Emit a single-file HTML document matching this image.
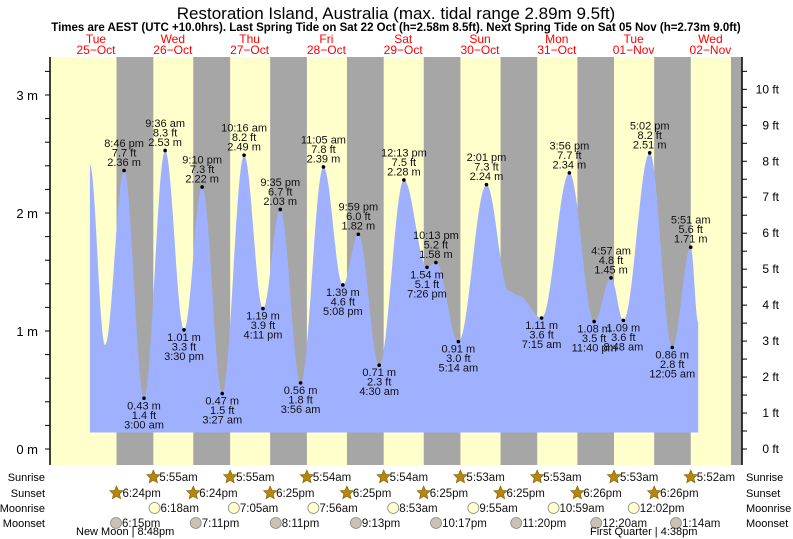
<!DOCTYPE html>
<html><head><meta charset="utf-8"><style>
body{margin:0;background:#fff}
svg{display:block;font-family:"Liberation Sans",sans-serif}
</style></head><body>
<svg id="c" width="793" height="539" viewBox="0 0 793 539" xmlns="http://www.w3.org/2000/svg">
<text x="396" y="19" text-anchor="middle" font-size="17">Restoration Island, Australia (max. tidal range 2.89m 9.5ft)</text>
<text x="396" y="31" text-anchor="middle" font-size="11.5" font-weight="bold">Times are AEST (UTC +10.0hrs). Last Spring Tide on Sat 22 Oct (h=2.58m 8.5ft). Next Spring Tide on Sat 05 Nov (h=2.73m 9.0ft)</text>
<g id="bg"></g><g id="tide"></g><g id="axes"></g><g id="labels"></g><g id="astro"></g>
</svg>
<script>
// hours since 25-Oct 00:00
const tideTimes=[10.1,14.8,20.77,27.0,33.6,39.5,45.17,51.45,58.27,64.18,69.58,75.93,83.08,89.13,93.98,100.5,108.22,115.43,118.22,125.23,134.02,141.0,144.0,151.25,159.93,167.67,172.95,176.8,185.03,192.08,197.85,200.2];
const tideHeights=[2.41,0.88,2.36,0.43,2.53,1.01,2.22,0.47,2.49,1.19,2.03,0.56,2.39,1.39,1.82,0.71,2.28,1.54,1.58,0.91,2.24,1.34,1.30,1.11,2.34,1.08,1.45,1.09,2.51,0.86,1.71,1.07];
const tideLabelled=[0,0,1,1,1,1,1,1,1,1,1,1,1,1,1,1,1,1,1,1,1,0,0,1,1,1,1,1,1,1,1,0];
const dayNames=["Tue","Wed","Thu","Fri","Sat","Sun","Mon","Tue","Wed"];
const dayDates=["25\u2212Oct","26\u2212Oct","27\u2212Oct","28\u2212Oct","29\u2212Oct","30\u2212Oct","31\u2212Oct","01\u2212Nov","02\u2212Nov"];
const sunrise=[null,5.917,5.917,5.9,5.9,5.883,5.883,5.883,5.867];
const sunset=[18.4,18.4,18.417,18.417,18.417,18.417,18.433,18.433,18.433];
const moonrise=[null,6.3,7.083,7.933,8.883,9.917,10.983,12.033,null];
const moonset=[18.25,19.183,20.183,21.217,22.283,23.333,null,0.333,1.233];
const mTicks=[0,1,2,3];
const ftTicks=[0,1,2,3,4,5,6,7,8,9,10];

const NS="http://www.w3.org/2000/svg";
const X=t=>57.6+t*3.2, Y=m=>449-m*118;
const L=50,R=742,T=57,B=465;
function mk(p,tag,a,txt){const e=document.createElementNS(NS,tag);for(const k in a)e.setAttribute(k,a[k]);if(txt!=null)e.textContent=txt;document.getElementById(p).appendChild(e);return e;}
function fmt(h){h=((h%24)+24)%24;let H=Math.floor(h),M=Math.round((h-H)*60);if(M==60){M=0;H++;}const ap=H>=12&&H<24?"pm":"am";let h12=H%12;if(h12==0)h12=12;return h12+":"+String(M).padStart(2,"0")+(ap);}
let e=mk("bg","rect",{x:L,y:T,width:R-L,height:B-T,fill:"#ffffcc"});


for(let d=0;d<9;d++){
 const s=X(d*24+sunset[d]);const r=d<8?X((d+1)*24+sunrise[d+1]):R;
 e=mk("bg","rect",{x:s,y:T,width:Math.min(r,R)-s,height:B-T,fill:"#a6a6a6"});
 
 
 const cx=X(d*24+12);
 e=mk("bg","text",{x:cx,y:43,"text-anchor":"middle","font-size":12,fill:"#ff0000"},dayNames[d]);
 
 
 e=mk("bg","text",{x:cx,y:54,"text-anchor":"middle","font-size":12,fill:"#ff0000"},dayDates[d]);
 
 
}
let pts=[];
for(let i=0;i<tideTimes.length-1;i++){
 const t0=tideTimes[i],t1=tideTimes[i+1],h0=tideHeights[i],h1=tideHeights[i+1];
 for(let k=0;k<20;k++){const f=k/20,t=t0+(t1-t0)*f,h=h0+(h1-h0)*(1-Math.cos(Math.PI*f))/2;pts.push(X(t).toFixed(1)+","+Y(h).toFixed(1));}
}
const n=tideTimes.length-1;pts.push(X(tideTimes[n]).toFixed(1)+","+Y(tideHeights[n]).toFixed(1));
const base=Y(0.14);
pts.push(X(tideTimes[n]).toFixed(1)+","+base);pts.unshift(X(tideTimes[0]).toFixed(1)+","+base);
e=mk("tide","polygon",{points:pts.join(" "),fill:"#9fb1fe"});


for(let i=0;i<tideTimes.length;i++){if(!tideLabelled[i])continue;
 const x=X(tideTimes[i]),y=Y(tideHeights[i]);
 const hi=(i==0||tideHeights[i]>tideHeights[i-1]);
 e=mk("labels","circle",{cx:x,cy:y,r:1.8,fill:"#000"});
 
 
 const m=tideHeights[i].toFixed(2)+" m",ft=(tideHeights[i]/0.3048).toFixed(1)+" ft",tm=fmt(tideTimes[i]).replace(/(am|pm)/," $1");
 const lines=hi?[tm,ft,m]:[m,ft,tm];const y0=hi?y-23.5:y+11;
 lines.forEach((s,j)=>{e=mk("labels","text",{x:x,y:y0+j*9.5,"text-anchor":"middle","font-size":11,fill:"#111"},s);
 
 });
}
e=mk("axes","line",{x1:L,y1:T,x2:L,y2:B,stroke:"#000","stroke-width":1.5});


e=mk("axes","line",{x1:R,y1:T,x2:R,y2:B,stroke:"#000","stroke-width":1.5});


for(let v=0;v<=3.4;v+=0.2){const y=Y(v);if(y<T)break;e=mk("axes","line",{x1:L-5,y1:y,x2:L,y2:y,stroke:"#000"});
 
 }
mTicks.forEach(v=>{e=mk("axes","text",{x:38,y:Y(v)+5,"text-anchor":"end","font-size":13},v+" m");
 
 });
for(let v=0;v<=11;v+=0.5){const y=Y(v*0.3048);if(y<T)break;e=mk("axes","line",{x1:R,y1:y,x2:R+5,y2:y,stroke:"#000"});
 
 }
ftTicks.forEach(v=>{e=mk("axes","text",{x:779,y:Y(v*0.3048)+4,"text-anchor":"end","font-size":12},v+" ft");
 
 });
const rows=[["Sunrise",477],["Sunset",493],["Moonrise",508],["Moonset",523]];
rows.forEach(r=>{e=mk("astro","text",{x:45,y:r[1]+4,"text-anchor":"end","font-size":11},r[0]);
 
 
 e=mk("astro","text",{x:746,y:r[1]+4,"font-size":11},r[0]);
 
 });
function star(x,y){let p=[];for(let k=0;k<10;k++){const a=-Math.PI/2+k*Math.PI/5,rr=k%2?3.2:7;p.push((x+rr*Math.cos(a)).toFixed(1)+","+(y+rr*Math.sin(a)).toFixed(1));}
 e=mk("astro","polygon",{points:p.join(" "),fill:"#b8860b",stroke:"#7a5a00","stroke-width":0.6});
 
 }
function ev(arr,row,kind,maxX){arr.forEach((h,d)=>{if(h==null)return;const x=X(d*24+h),y=rows[row][1];if(x>maxX)return;
 if(kind=="sun")star(x,y);else{e=mk("astro","circle",{cx:x,cy:y,r:5.5,fill:kind=="rise"?"#ffffcc":"#c8c4b4",stroke:"#888","stroke-width":0.8});
 
 }
 e=mk("astro","text",{x:x+6,y:y+4,"font-size":11.5,fill:"#111"},fmt(h));
 
 });}
ev(sunrise,0,"sun",720);ev(sunset,1,"sun",720);ev(moonrise,2,"rise",720);ev(moonset,3,"set",720);
e=mk("astro","text",{x:76,y:535,"font-size":11},"New Moon | 8:48pm");


e=mk("astro","text",{x:590,y:535,"font-size":11},"First Quarter | 4:38pm");


</script>
</body></html>
